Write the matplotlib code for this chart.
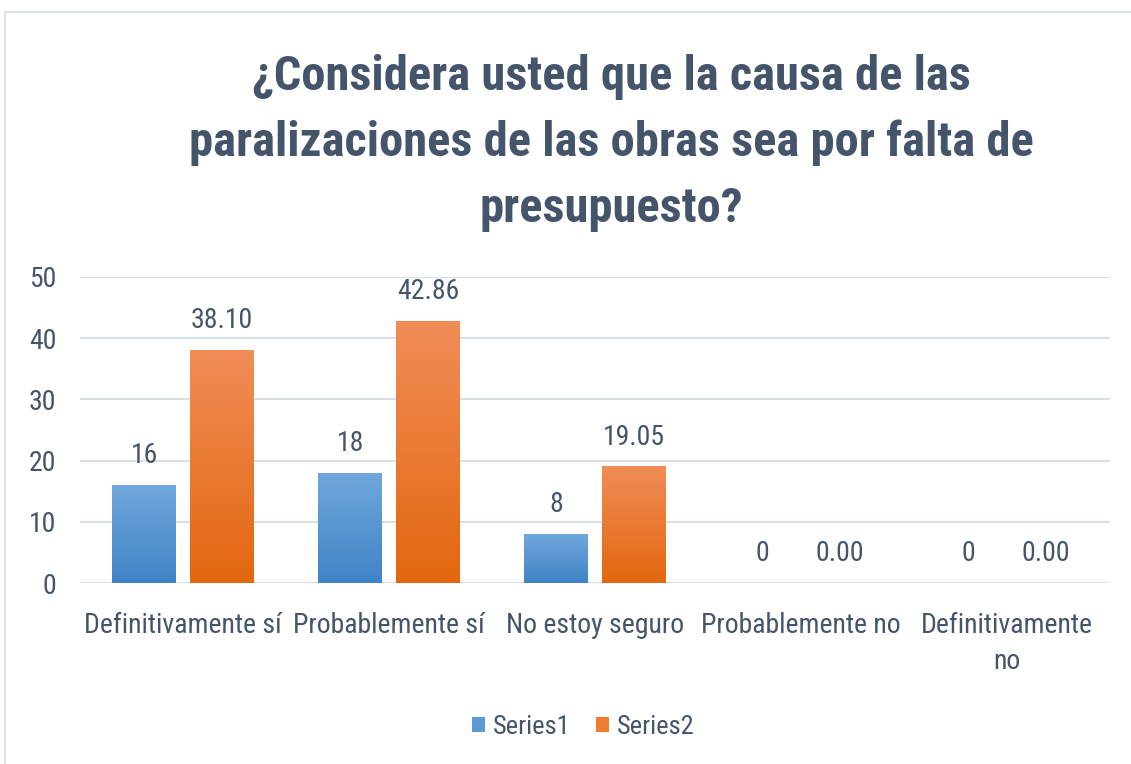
import numpy as np
import matplotlib
matplotlib.use('Agg')
import matplotlib.pyplot as plt
from matplotlib import font_manager
from matplotlib.colors import LinearSegmentedColormap
from matplotlib.lines import Line2D
from matplotlib.patches import Patch

# data
categories = ['Definitivamente sí', 'Probablemente sí', 'No estoy seguro',
              'Probablemente no', 'Definitivamente\nno']
series1 = [16, 18, 8, 0, 0]
series2 = [38.10, 42.86, 19.05, 0.00, 0.00]
series_names = ['Series1', 'Series2']
title = '¿Considera usted que la causa de las\nparalizaciones de las obras sea por falta de\npresupuesto?'

# pick a narrow font if there is one
font = 'DejaVu Sans'
for name in ['Liberation Sans Narrow', 'Roboto Condensed', 'Open Sans Condensed']:
    try:
        font_manager.findfont(name, fallback_to_default=False)
        font = name
        break
    except Exception:
        pass
plt.rcParams['font.family'] = [font, 'DejaVu Sans']

text_col = '#44546a'
grid_col = '#d9dfe7'
blue_cm = LinearSegmentedColormap.from_list('b', ['#3f84c6', '#71a7dc'])
orange_cm = LinearSegmentedColormap.from_list('o', ['#e3670f', '#f18d58'])

fig = plt.figure(figsize=(11.31, 7.64), dpi=100)
ax = fig.add_axes([80 / 1131, 1 - 583 / 764, 1030 / 1131, 306 / 764])

x = np.arange(len(categories))
w = 0.31
off = 0.189


def grad_bars(xs, vals, cmap):
    bars = ax.bar(xs, vals, w, color='none', edgecolor='none', zorder=3)
    grad = np.linspace(0, 1, 256).reshape(-1, 1)
    for b in bars:
        if b.get_height() <= 0:
            continue
        im = ax.imshow(grad, cmap=cmap, aspect='auto', origin='lower',
                       extent=[b.get_x(), b.get_x() + b.get_width(), 0, b.get_height()],
                       zorder=3)
        im.set_clip_path(b)
    return bars


grad_bars(x - off, series1, blue_cm)
grad_bars(x + off, series2, orange_cm)

for xi, v in zip(x - off, series1):
    ax.text(xi, v + 2.6, f'{v:d}', ha='center', va='bottom', fontsize=20, color=text_col)
for xi, v in zip(x + off, series2):
    ax.text(xi, v + 2.6, f'{v:.2f}', ha='center', va='bottom', fontsize=20, color=text_col)

ax.set_xlim(-0.5, len(categories) - 0.5)
ax.set_ylim(0, 50)
ax.set_yticks([0, 10, 20, 30, 40, 50])
ax.yaxis.grid(True, color=grid_col, linewidth=1.5, zorder=0)
ax.set_axisbelow(True)
for s in ax.spines.values():
    s.set_visible(False)
ax.tick_params(axis='both', length=0, labelsize=20, labelcolor=text_col)
ax.tick_params(axis='y', pad=17)
ax.tick_params(axis='x', pad=21)
ax.set_xticks(x)
ax.set_xticklabels(categories, linespacing=1.4)

fig.text(611 / 1131, 1 - 143 / 764, title, ha='center', va='center', fontsize=35,
         fontweight='bold', color=text_col, linespacing=1.55)

handles = [Patch(facecolor='#5b9bd5'), Patch(facecolor='#ed7d31')]
fig.legend(handles, series_names, loc='center', bbox_to_anchor=(583 / 1131, 1 - 727 / 764),
           ncol=2, frameon=False, fontsize=19, labelcolor=text_col,
           handlelength=0.5, handleheight=0.5, handletextpad=0.3, columnspacing=0.95)

# chart border
fig.add_artist(Line2D([5 / 1131, 1], [1 - 12 / 764] * 2, color='#dde3ea', lw=1.5))
fig.add_artist(Line2D([5 / 1131] * 2, [0, 1 - 12 / 764], color='#dde3ea', lw=1.5))

fig.savefig('out.png', dpi=100)
